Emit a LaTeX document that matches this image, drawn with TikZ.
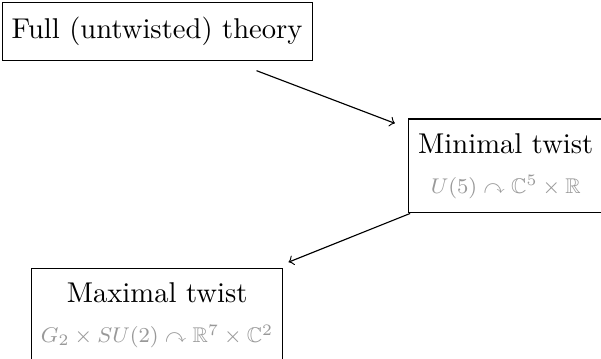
\documentclass[tikz,border=0pt]{standalone}
\usepackage{amssymb}
\usepackage{graphicx}
\usepackage{tikz}
\usetikzlibrary{arrows}

\begin{document}
\begin{tikzpicture}

    \useasboundingbox (0,0) rectangle (210pt,-125.1pt);

    \tikzset{twist_box/.style={draw=black, line width=0.4pt, fill=white,
                               align=center, inner xsep=3.33pt, inner ysep=5pt}}

    % Untwisted theory at the top
    \node[twist_box] (Full_theory) at (54.9pt,-11pt) {Full (untwisted) theory};

    % Minimal twist, cut by the right edge
    \node[twist_box, anchor=west] (Minimal_twist) at (142.6pt,-58pt)
        {Minimal twist\\[2pt]
         \scalebox{0.93}{\footnotesize\color{black!40}$U(5)\curvearrowright\mathbb{C}^5\times\mathbb{R}$}};

    % Maximal twist, cut by the bottom edge
    \node[twist_box, anchor=north] (Maximal_twist) at (54.9pt,-93.6pt)
        {Maximal twist\\[2pt]
         \scalebox{0.93}{\footnotesize\color{black!40}$G_2\times SU(2)\curvearrowright\mathbb{R}^7\times\mathbb{C}^2$}};

    \draw[->, line width=0.4pt]
        ([xshift=-19.6pt,yshift=-3.5pt]Full_theory.south east)
        -- ([xshift=-4.6pt,yshift=-1.7pt]Minimal_twist.north west);
    \draw[->, line width=0.4pt]
        ([xshift=0.7pt]Minimal_twist.south west)
        -- ([xshift=1.8pt,yshift=2pt]Maximal_twist.north east);

\end{tikzpicture}
\end{document}
